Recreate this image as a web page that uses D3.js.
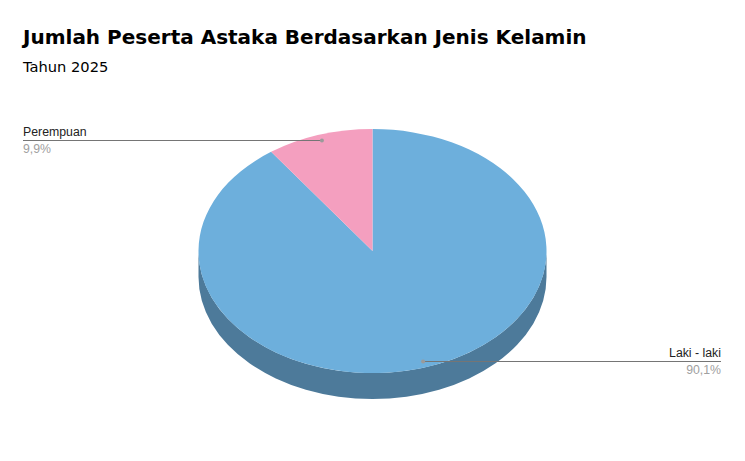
<!DOCTYPE html>
<html>
<head>
  <meta charset="UTF-8">
  <title>Jumlah Peserta Astaka</title>
  <script src="https://cdn.jsdelivr.net/npm/d3@7"></script>
  <style>
    html, body { margin: 0; padding: 0; background: #fff; }
    svg { display: block; }
  </style>
</head>
<body>
<svg width="745" height="461"></svg>
<script>
var categories = ["Laki - laki", "Perempuan"];
var values = [90.1, 9.9];
var valueLabels = ["90,1%", "9,9%"];
var colors = ["#6dafdc", "#f49fbf"];
var sideColor = "#4d7a9a";

var cx = 372.5, cy = 251, rx = 174, ry = 122, depth = 26;
var squash = ry / rx;

var svg = d3.select("svg");

svg.append("text").attr("x", 23).attr("y", 44)
  .style("font", "bold 20px 'DejaVu Sans'").attr("fill", "#000")
  .text("Jumlah Peserta Astaka Berdasarkan Jenis Kelamin");
svg.append("text").attr("x", 23).attr("y", 72)
  .style("font", "14.67px 'DejaVu Sans'").attr("fill", "#000")
  .text("Tahun 2025");

// side wall of the pie, drawn in unsquashed coords
var wall = d3.path();
wall.moveTo(rx, 0);
wall.arc(0, 0, rx, 0, Math.PI);
wall.lineTo(-rx, depth / squash);
wall.arc(0, depth / squash, rx, Math.PI, 0, true);
wall.closePath();

var pieGroup = svg.append("g")
  .attr("transform", "translate(" + cx + "," + cy + ") scale(1," + squash + ")");

pieGroup.append("path").attr("d", wall.toString()).attr("fill", sideColor);

var slices = d3.pie().sort(null)(values);
var arc = d3.arc().innerRadius(0).outerRadius(rx);

pieGroup.selectAll("path.slice").data(slices).enter().append("path")
  .attr("class", "slice")
  .attr("d", arc)
  .attr("fill", function(d, i) { return colors[i]; });

// leader lines start at 95% of the radius on each slice's middle angle
slices.forEach(function(d, i) {
  var mid = (d.startAngle + d.endAngle) / 2;
  var px = cx + Math.sin(mid) * rx * 0.95;
  var py = Math.floor(cy - Math.cos(mid) * ry * 0.95) + 0.5;
  var onLeft = px < cx;
  var endX = onLeft ? 23 : 721;

  svg.append("line").attr("x1", px).attr("y1", py).attr("x2", endX).attr("y2", py)
    .attr("stroke", "#757575").attr("stroke-width", 1);
  svg.append("circle").attr("cx", px).attr("cy", py).attr("r", 2).attr("fill", "#9a9a9a");

  svg.append("text").attr("x", endX).attr("y", py - 4.5)
    .attr("text-anchor", onLeft ? "start" : "end")
    .style("font", "12.3px 'Liberation Sans'").attr("fill", "#222")
    .text(categories[i]);
  svg.append("text").attr("x", endX).attr("y", py + 12.5)
    .attr("text-anchor", onLeft ? "start" : "end")
    .style("font", "12.3px 'Liberation Sans'").attr("fill", "#a0a0a0")
    .text(valueLabels[i]);
});
</script>
</body>
</html>
